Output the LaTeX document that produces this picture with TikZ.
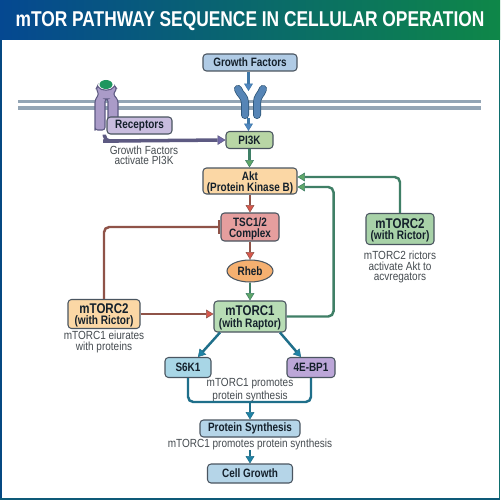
\documentclass[tikz,border=0pt]{standalone}
\usepackage{fontspec}
\setmainfont[FakeStretch=0.82]{Liberation Sans}
\newfontfamily\notefont[FakeStretch=0.85]{Liberation Sans}
\newfontfamily\titlefont[FakeStretch=0.81]{Liberation Sans}
\usetikzlibrary{arrows.meta,calc,shapes.geometric}
\definecolor{txtd}{HTML}{14202B}
\definecolor{txtg}{HTML}{454B50}
\definecolor{edge}{HTML}{4A5560}
\definecolor{memb}{HTML}{93A5B5}
\definecolor{redl}{HTML}{8F5348}
\definecolor{redt}{HTML}{D9574C}
\definecolor{grnl}{HTML}{3F7F66}
\definecolor{grnt}{HTML}{5FA768}
\definecolor{tealn}{HTML}{1F6F8A}
\definecolor{tealt}{HTML}{1F83A6}
\definecolor{purl}{HTML}{5D5A82}
\definecolor{purt}{HTML}{7068A8}
\definecolor{blul}{HTML}{3F78A8}
\definecolor{blut}{HTML}{4F86C0}
\definecolor{headl}{HTML}{054891}
\definecolor{headr}{HTML}{0E8748}
\definecolor{sidel}{HTML}{054882}
\definecolor{sider}{HTML}{0E6E6E}
\definecolor{botb}{HTML}{0E5A78}
\definecolor{recp}{HTML}{AA9BC8}
\definecolor{recl}{HTML}{5D5A82}
\definecolor{ligd}{HTML}{1E965F}
\definecolor{cgf}{HTML}{B0CBE5}
\definecolor{cpi}{HTML}{B8D6A5}
\definecolor{crec}{HTML}{C8BCDE}
\definecolor{corg}{HTML}{FBD7A5}
\definecolor{ctsc}{HTML}{E59E9E}
\definecolor{crhb}{HTML}{F5B070}
\definecolor{cmc1}{HTML}{B8DDB5}
\definecolor{cmc2}{HTML}{A8D2A8}
\definecolor{cs6k}{HTML}{A8D6E6}
\definecolor{cebp}{HTML}{BCA6D8}
\definecolor{cps}{HTML}{B5D5E8}
\tikzset{
  x=0.02cm,y=-0.02cm,
  box/.style={draw=edge,line width=0.6pt,rounded corners=2pt,align=center,inner sep=0pt,text=txtd,font=\fontsize{6.9}{6.2}\selectfont\bfseries},
  bigbox/.style={box,font=\fontsize{8}{6.5}\selectfont\bfseries},
  note/.style={align=center,inner sep=0pt,text=txtg,font=\notefont\fontsize{6.7}{5.8}\selectfont},
  conn/.style={line width=1.4pt,rounded corners=3pt},
  redc/.style={conn,draw=redl,-{Triangle[length=4.2pt,width=5pt,fill=redt,line width=0.3pt]}},
  grnc/.style={conn,draw=grnl,-{Triangle[length=4.2pt,width=5pt,fill=grnt,line width=0.3pt]}},
  teac/.style={conn,draw=tealn,-{Triangle[length=4.2pt,width=5pt,fill=tealt,line width=0.3pt]}},
  bluc/.style={conn,draw=blul,-{Triangle[length=4.2pt,width=5pt,fill=blut,line width=0.3pt]}},
  purc/.style={conn,line width=2pt,draw=purl,-{Triangle[length=4.5pt,width=5.5pt,fill=purt,line width=0.3pt]}},
  yarm/.style={line width=0.16cm,draw=blul!70!black,line cap=round,line join=round},
  yarmin/.style={line width=0.13cm,draw=blut!85!gray,line cap=round,line join=round},
}
\begin{document}
\begin{tikzpicture}
\useasboundingbox (0,0) rectangle (500,500);
\fill[white] (0,0) rectangle (500,500);
\shade[left color=headl,right color=headr] (0,0) rectangle (500,40);
\fill[sidel] (0,40) rectangle (1.5,500);
\fill[sider] (498.5,40) rectangle (500,500);
\fill[botb] (0,498) rectangle (500,500);
\node[anchor=center,text=white,font=\titlefont\fontsize{12.2}{14}\selectfont\bfseries,inner sep=0pt] (title) at (250,21) {mTOR PATHWAY SEQUENCE IN CELLULAR OPERATION};
% membrane
\fill[memb] (18,100) rectangle (481,103);
\fill[memb] (18,106.5) rectangle (481,110);
% left receptor
\draw[draw=recl,fill=recp,line width=0.6pt,rounded corners=1.5pt]
 (95,128) -- (95,100) -- (99,94) -- (96,89) -- (98,85) .. controls (100,91) and (112,91) .. (114,85) -- (117,89) -- (113,94) -- (118,100) -- (118,130) -- (108,130) -- (108,99) -- (105,99) -- (105,130) -- (95,130) -- cycle;
\fill[ligd] (106,84.5) ellipse (6.5 and 4.5);
% nodes
\node[box,fill=cgf,minimum width=94*0.02cm,minimum height=17*0.02cm] (gf) at (250,62.5) {Growth Factors};
\node[box,fill=cpi,minimum width=47*0.02cm,minimum height=17*0.02cm] (pi3k) at (249.5,140) {PI3K};
\node[box,fill=crec,minimum width=65*0.02cm,minimum height=17*0.02cm] (rec) at (139.5,125.5) {Receptors};
\node[box,fill=corg,minimum width=94*0.02cm,minimum height=26*0.02cm] (akt) at (250,181) {\rule{0pt}{6.9pt}Akt\\(Protein Kinase B)};
\node[box,fill=ctsc,minimum width=58*0.02cm,minimum height=28*0.02cm] (tsc) at (250,227) {\rule{0pt}{6.9pt}TSC1/2\\Complex};
\node[box,ellipse,fill=crhb,minimum width=46*0.02cm,minimum height=22*0.02cm] (rheb) at (250,271) {Rheb};
\node[bigbox,fill=cmc1,minimum width=72*0.02cm,minimum height=31*0.02cm] (mc1) at (250,316.5) {\rule{0pt}{7pt}mTORC1\\{\fontsize{7}{6.5}\selectfont (with Raptor)}};
\node[bigbox,fill=corg,minimum width=72*0.02cm,minimum height=29*0.02cm] (mc2l) at (104,314) {\rule{0pt}{7pt}mTORC2\\{\fontsize{7}{6.5}\selectfont (with Rictor)}};
\node[bigbox,fill=cmc2,minimum width=68*0.02cm,minimum height=31*0.02cm] (mc2r) at (400,229) {\rule{0pt}{7pt}mTORC2\\{\fontsize{7}{6.5}\selectfont (with Rictor)}};
\node[box,fill=cs6k,minimum width=46*0.02cm,minimum height=20*0.02cm] (s6k) at (188,367.5) {S6K1};
\node[box,fill=cebp,minimum width=48*0.02cm,minimum height=20*0.02cm] (ebp) at (311,367.5) {4E-BP1};
\node[box,fill=cps,minimum width=100*0.02cm,minimum height=17*0.02cm] (ps) at (250,428.5) {Protein Synthesis};
\node[box,fill=cps,minimum width=85*0.02cm,minimum height=19*0.02cm] (cg) at (250,473.5) {Cell Growth};
% notes
\node[note] (n1) at (144,155) {Growth Factors\\activate PI3K};
\node[note] (n2) at (400,267) {mTORC2 rictors\\activate Akt to\\acvregators};
\node[note] (n3) at (104,342) {mTORC1 eiurates\\with proteins};
\node[note] (n4) at (250,390) {mTORC1 promotes\\protein synthesis};
\node[note] (n5) at (250,444) {mTORC1 promotes protein synthesis};
% connectors
\coordinate (ymid) at (248.5,118);
\coordinate (ytop) at (248.5,91);
\draw[bluc] (gf.south -| ytop) -- (ytop);
\draw[bluc] (ymid) -- (pi3k.north -| ymid);
\draw[yarm] (238,89) .. controls (240,95) and (245,96) .. (245,103) -- (245,115);
\draw[yarmin] (238,89) .. controls (240,95) and (245,96) .. (245,103) -- (245,115);
\draw[yarm] (263,89) .. controls (261,95) and (257,96) .. (257,103) -- (257,115);
\draw[yarmin] (263,89) .. controls (261,95) and (257,96) .. (257,103) -- (257,115);
\draw[purc,rounded corners=3pt] ($(rec.south west)+(-2,0)$) -- ($(rec.south west)+(-2,6.5)$) -- ($(rec.south west)+(2,6.5)$) -- (pi3k.west);
\draw[grnc] (pi3k.south) -- (akt.north -| pi3k.south);
\draw[redc] (akt.south) -- (tsc.north);
\draw[redc] (tsc.south) -- (rheb.north);
\draw[grnc] (rheb.south) -- (mc1.north);
\draw[conn,draw=redl,-{Bar[width=8pt,length=1.5pt]}] (mc2l.north) |- (tsc.west);
\draw[redc] (mc2l.east) -- (mc2l.east -| mc1.west);
\draw[grnc] (mc1.east) -- ++(47,0) |- ($(akt.east)+(0,6)$);
\draw[grnc] (mc2r.north) |- ($(akt.east)+(0,-4)$);
\draw[teac] ($(mc1.south)+(-30,0)$) -- ($(s6k.north)+(10,0)$);
\draw[teac] ($(mc1.south)+(30,0)$) -- ($(ebp.north)+(-10,0)$);
\coordinate (joinp) at (250,402);
\draw[conn,draw=tealn] (s6k.south) |- (joinp);
\draw[conn,draw=tealn] (ebp.south) |- (joinp);
\draw[teac] (joinp) -- (ps.north);
\coordinate (cgtop) at (250,450);
\draw[teac] (cgtop) -- (cg.north);
\end{tikzpicture}
\end{document}
